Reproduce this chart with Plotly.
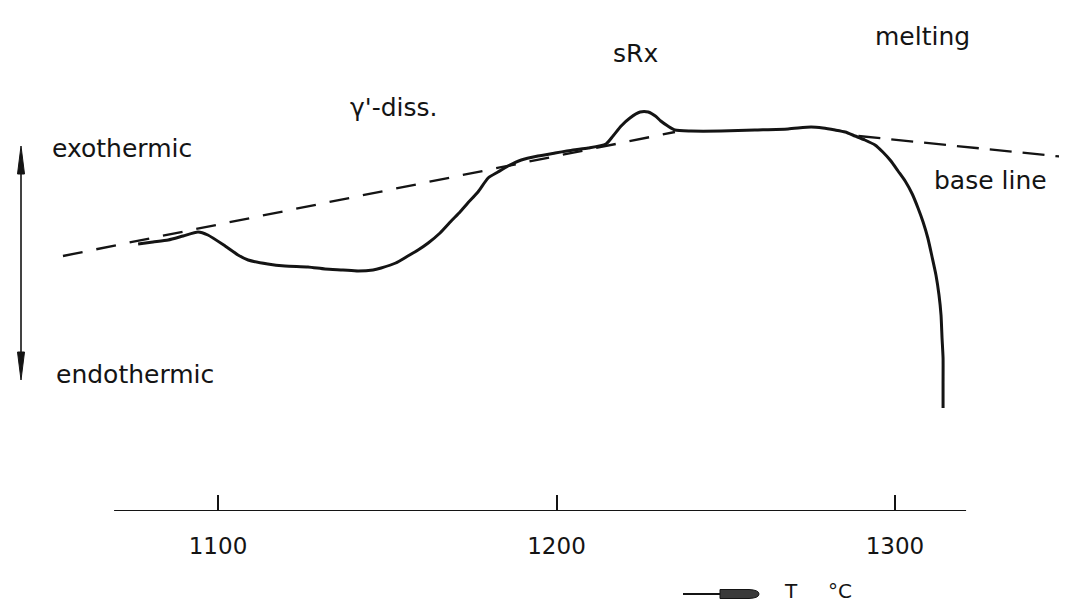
import plotly.graph_objects as go

# ---------------- data ----------------
# DSC curve: temperature (°C) and heat-flow signal (arbitrary units, exo up)
curve_T = [1076.4, 1080.8, 1085.3, 1089.7, 1094.1, 1097.0, 1102.1, 1105.9, 1108.9,
           1114.7, 1119.8, 1126.6, 1131.6, 1136.9, 1141.4, 1145.8, 1148.2, 1152.5,
           1156.1, 1159.1, 1162.1, 1165.6, 1168.9, 1171.5, 1173.8, 1176.8, 1179.8,
           1182.7, 1185.7, 1189.6, 1194.5, 1199.6, 1204.9, 1209.4, 1214.6, 1216.7,
           1219.1, 1221.7, 1224.7, 1227.1, 1229.2, 1230.8, 1232.9, 1235.0, 1239.7,
           1248.6, 1258.6, 1268.4, 1275.2, 1278.7, 1282.3, 1285.3, 1288.2, 1291.1,
           1294.1, 1296.4, 1298.8, 1300.9, 1303.0, 1305.1, 1306.8, 1308.3, 1309.7,
           1310.9, 1312.1, 1313.0, 1313.6, 1313.9, 1314.2, 1314.2, 1314.2]
curve_signal = [26.7, 26.9, 27.1, 27.5, 27.9, 27.6, 26.5, 25.6, 25.1,
                24.7, 24.5, 24.4, 24.2, 24.1, 24.0, 24.1, 24.3, 24.8,
                25.5, 26.1, 26.8, 27.8, 29.0, 29.9, 30.8, 31.9, 33.3,
                33.9, 34.5, 35.1, 35.5, 35.8, 36.1, 36.3, 36.7, 37.5,
                38.5, 39.3, 39.9, 39.9, 39.5, 39.0, 38.5, 38.1, 38.0,
                38.0, 38.1, 38.2, 38.4, 38.3, 38.1, 37.9, 37.5, 37.1,
                36.6, 35.9, 35.0, 34.0, 33.0, 31.7, 30.3, 28.9, 27.3,
                25.5, 23.6, 21.6, 19.6, 17.3, 15.3, 12.8, 10.3]

# dashed base lines (tangents)
base_left_T = [1054.2, 1235.0]
base_left_signal = [25.5, 37.9]
base_right_T = [1289.2, 1353.0]
base_right_signal = [37.5, 35.3]

# x axis
tick_vals = [1100, 1200, 1300]
tick_text = ["1100", "1200", "1300"]
x_range = [1037.96, 1353.18]
y_range = [0, 50.3]
axis_line_T = [1069.3, 1321.0]

# text labels: (text, x px, y px, anchor, size)
labels = [
    ("exothermic", 43, 140, "left", 25),
    ("endothermic", 47, 366, "left", 25),
    ("γ'-diss.", 386, 100, "center", 25),
    ("sRx", 627, 45, "center", 25),
    ("melting", 914, 28, "center", 25),
    ("base line", 982, 172, "center", 25),
    ("T", 783, 583, "center", 20),
    ("°C", 832, 583, "center", 20),
]

W, H = 1067, 601
PLOT_BOTTOM = 503
INK = "#141414"
FONT = "DejaVu Sans"


def px(xp):
    return xp / W


def py(yp):
    return (PLOT_BOTTOM - yp) / PLOT_BOTTOM


fig = go.Figure()

fig.add_trace(go.Scatter(
    x=base_left_T, y=base_left_signal, mode="lines",
    line=dict(color=INK, width=2.3, dash="20px,14px"),
    hoverinfo="skip", showlegend=False))
fig.add_trace(go.Scatter(
    x=base_right_T, y=base_right_signal, mode="lines",
    line=dict(color=INK, width=2.3, dash="22px,11px"),
    hoverinfo="skip", showlegend=False))
fig.add_trace(go.Scatter(
    x=curve_T, y=curve_signal, mode="lines",
    line=dict(color=INK, width=3, shape="spline", smoothing=0.6),
    showlegend=False, name="DSC"))

shapes = []
# axis line
shapes.append(dict(type="line", xref="x", yref="y",
                   x0=axis_line_T[0], x1=axis_line_T[1], y0=0, y1=0,
                   line=dict(color=INK, width=2)))

# vertical exo/endo double arrow
shapes.append(dict(type="line", xref="paper", yref="paper",
                   x0=px(13), x1=px(13), y0=py(150), y1=py(360),
                   line=dict(color=INK, width=1.6)))
for tip, base in ((138, 166), (372, 344)):
    path = (f"M {px(13)} {py(tip)} L {px(16.5)} {py(base)} "
            f"L {px(9.5)} {py(base)} Z")
    shapes.append(dict(type="path", xref="paper", yref="paper", path=path,
                       fillcolor=INK, line=dict(color=INK, width=1)))

# temperature arrow  (——▶)
shapes.append(dict(type="line", xref="paper", yref="paper",
                   x0=px(675), x1=px(716), y0=py(586), y1=py(586),
                   line=dict(color=INK, width=2)))
bullet = (f"M {px(712)} {py(581.5)} L {px(741)} {py(581.5)} "
          f"Q {px(751)} {py(582)} {px(751)} {py(586)} "
          f"Q {px(751)} {py(590)} {px(741)} {py(590.5)} "
          f"L {px(712)} {py(590.5)} Z")
shapes.append(dict(type="path", xref="paper", yref="paper", path=bullet,
                   fillcolor="#3a3a3a", line=dict(color=INK, width=1)))

annotations = []
for text, xp, yp, anchor, size in labels:
    annotations.append(dict(x=px(xp), y=py(yp), xref="paper", yref="paper",
                            text=text, showarrow=False, xanchor=anchor,
                            yanchor="middle", borderpad=0,
                            font=dict(family=FONT, size=size, color=INK)))

fig.update_layout(
    width=W, height=H,
    margin=dict(l=0, r=0, t=0, b=H - PLOT_BOTTOM),
    paper_bgcolor="white", plot_bgcolor="white",
    annotations=annotations, shapes=shapes,
    xaxis=dict(range=x_range, showgrid=False, zeroline=False, showline=False,
               ticks="inside", ticklen=16, tickwidth=1.6, tickcolor=INK,
               tickvals=tick_vals, ticktext=tick_text, ticklabelstandoff=19,
               tickfont=dict(family=FONT, size=23, color=INK)),
    yaxis=dict(range=y_range, visible=False, showgrid=False, zeroline=False),
)

fig.write_html("out.html")
